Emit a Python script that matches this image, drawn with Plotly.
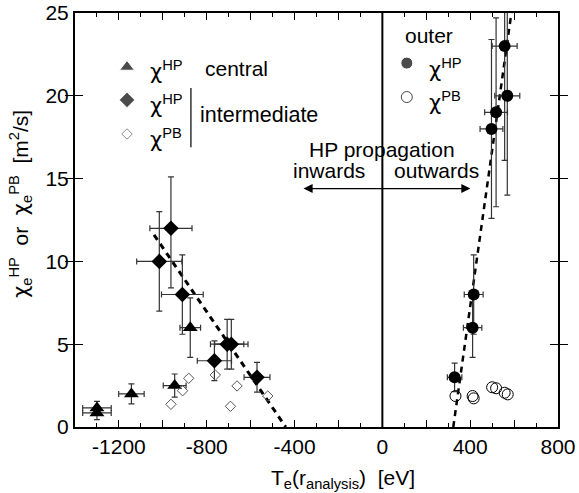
import plotly.graph_objects as go

# ---- data ----
central_x = [-1300, -1300, -1143, -946, -875]
central_y = [1.15, 0.85, 2.0, 2.5, 6.0]
central_xerr = [65, 65, 58, 52, 47]
central_yerr = [0.4, 0.4, 0.6, 0.7, 1.8]

inter_hp_x = [-1016, -963, -911, -765, -707, -688, -571]
inter_hp_y = [10.0, 12.0, 8.0, 4.0, 5.0, 5.0, 3.0]
inter_hp_xerr = [103, 96, 95, 78, 76, 76, 59]
inter_hp_yerr_plus = [3.0, 3.1, 2.4, 1.2, 1.5, 1.5, 0.9]
inter_hp_yerr_minus = [3.0, 3.6, 2.4, 1.2, 1.5, 1.5, 0.9]

inter_pb_x = [-963, -910, -882, -761, -692, -662, -522]
inter_pb_y = [1.37, 2.19, 2.94, 3.14, 1.25, 2.48, 1.87]

outer_hp_x = [329, 411, 416, 497, 518, 569, 557]
outer_hp_y = [3.0, 6.0, 8.0, 18.0, 19.0, 20.0, 23.0]
outer_hp_xerr = [33, 42, 43, 52, 52, 57, 57]
outer_hp_yerr = [0.86, 1.8, 2.4, 5.4, 5.7, 6.0, 6.9]

outer_pb_x = [333, 411, 416, 500, 518, 557, 571]
outer_pb_y = [1.87, 1.87, 1.73, 2.40, 2.34, 2.07, 1.97]

fit_left_x = [-1040, -440]
fit_left_y = [11.6, 0.0]
fit_right_x = [323, 592]
fit_right_y = [0.0, 25.4]

x_tickvals = [-1400, -1200, -1000, -800, -600, -400, -200, 0, 200, 400, 600, 800]
x_ticktext = ["", "-1200", "", "-800", "", "-400", "", "0", "", "400", "", "800"]
y_tickvals = [0, 5, 10, 15, 20, 25]

FONT = "Liberation Sans, Arial, sans-serif"
CHI = "<span style='font-family:DejaVu Sans'>χ</span>"
EB = "#333333"
FS = 21

fig = go.Figure()

# dashed fits
fig.add_trace(go.Scatter(x=fit_left_x, y=fit_left_y, mode="lines",
                         line=dict(color="black", width=3, dash="6px,5px"), showlegend=False))
fig.add_trace(go.Scatter(x=fit_right_x, y=fit_right_y, mode="lines",
                         line=dict(color="black", width=2.5, dash="6px,5px"), showlegend=False))

# central HP (triangles)
fig.add_trace(go.Scatter(
    x=central_x, y=central_y, mode="markers",
    marker=dict(symbol="triangle-up", size=13, color="black"),
    error_x=dict(type="data", array=central_xerr, color=EB, thickness=1.2, width=3),
    error_y=dict(type="data", array=central_yerr, color=EB, thickness=1.2, width=3),
    showlegend=False))

# intermediate HP (filled diamonds)
fig.add_trace(go.Scatter(
    x=inter_hp_x, y=inter_hp_y, mode="markers",
    marker=dict(symbol="diamond", size=12, color="black"),
    error_x=dict(type="data", array=inter_hp_xerr, color=EB, thickness=1.2, width=3),
    error_y=dict(type="data", array=inter_hp_yerr_plus, arrayminus=inter_hp_yerr_minus,
                 color=EB, thickness=1.2, width=3),
    showlegend=False))

# intermediate PB (open diamonds)
fig.add_trace(go.Scatter(
    x=inter_pb_x, y=inter_pb_y, mode="markers",
    marker=dict(symbol="diamond-open", size=8, color="#555555", line=dict(width=1)),
    showlegend=False))

# outer HP (filled circles)
fig.add_trace(go.Scatter(
    x=outer_hp_x, y=outer_hp_y, mode="markers",
    marker=dict(symbol="circle", size=12, color="black"),
    error_x=dict(type="data", array=outer_hp_xerr, color=EB, thickness=1.2, width=3),
    error_y=dict(type="data", array=outer_hp_yerr, color=EB, thickness=1.2, width=3),
    showlegend=False))

# outer PB (open circles)
fig.add_trace(go.Scatter(
    x=outer_pb_x, y=outer_pb_y, mode="markers",
    marker=dict(symbol="circle-open", size=11, color="black", line=dict(width=1)),
    showlegend=False))

# legend markers on an overlay axis (0..1 both ways)
leg_x = [0.1077, 0.1077, 0.1077, 0.687, 0.687]
leg_y = [0.8696, 0.790, 0.7077, 0.879, 0.797]
leg_sym = ["triangle-up", "diamond", "diamond-open", "circle", "circle-open"]
leg_size = [13, 12, 8, 12, 11]
leg_col = ["black", "black", "#555555", "black", "black"]
fig.add_trace(go.Scatter(
    x=leg_x, y=leg_y, xaxis="x2", yaxis="y2", mode="markers",
    marker=dict(symbol=leg_sym, size=leg_size, color=leg_col, line=dict(width=1)),
    showlegend=False, hoverinfo="skip"))

ann = []
def txt(x, y, t, xanchor="left", xref="paper", yref="paper", size=FS, angle=0):
    ann.append(dict(x=x, y=y, xref=xref, yref=yref, text=t, showarrow=False,
                    xanchor=xanchor, yanchor="middle", textangle=angle,
                    font=dict(family=FONT, size=size, color="black")))

txt(0.152, 0.862, CHI + "<sup>HP</sup>")
txt(0.265, 0.865, "central")
txt(0.152, 0.780, CHI + "<sup>HP</sup>")
txt(0.152, 0.697, CHI + "<sup>PB</sup>")
txt(0.2547, 0.754, "intermediate", size=21.5)
txt(0.679, 0.945, "outer")
txt(0.728, 0.867, CHI + "<sup>HP</sup>")
txt(0.728, 0.787, CHI + "<sup>PB</sup>")

txt(0, 16.75, "HP propagation", xanchor="center", xref="x", yref="y")
txt(-68, 15.5, "inwards", xanchor="right", xref="x", yref="y")
txt(44, 15.5, "outwards", xanchor="left", xref="x", yref="y")

# y-axis title as rotated annotation
txt(-0.113, 0.54,
    CHI + "<sub>e</sub><sup>HP</sup>  or  " + CHI + "<sub>e</sub><sup>PB</sup>  [m<sup>2</sup>/s]",
    xanchor="center", angle=-90)
# x-axis title
txt(0.555, -0.125, "T<sub>e</sub>(r<sub>analysis</sub>)  [eV]", xanchor="center")

# double-headed arrow
ann.append(dict(x=401, y=14.4, ax=-366, ay=14.4, xref="x", yref="y", axref="x", ayref="y",
                text="", showarrow=True, arrowhead=2, arrowside="end+start",
                arrowsize=1.4, arrowwidth=1.3, arrowcolor="black"))

shapes = [
    dict(type="line", xref="x", yref="y", x0=0, x1=0, y0=0, y1=25,
         line=dict(color="black", width=2)),
    dict(type="line", xref="paper", yref="paper", x0=0.240, x1=0.240, y0=0.676, y1=0.819,
         line=dict(color="black", width=1.2)),
]

xcommon = dict(range=[-1400, 800], tickvals=x_tickvals, ticks="inside", ticklen=7,
               tickwidth=1.2, tickcolor="black",
               minor=dict(dtick=100, tick0=0, ticks="inside", ticklen=4, tickwidth=1.2,
                          tickcolor="black"),
               showgrid=False, zeroline=False, automargin=False)

fig.update_layout(
    template="none",
    width=579, height=493,
    margin=dict(l=75, r=21, t=13, b=66, autoexpand=False),
    plot_bgcolor="white", paper_bgcolor="white",
    font=dict(family=FONT, size=FS, color="black"),
    annotations=ann, shapes=shapes,
    xaxis=dict(**xcommon, ticktext=x_ticktext,
               showline=True, linecolor="black", linewidth=2, mirror=True,
               tickfont=dict(family=FONT, size=FS)),
    xaxis3=dict(**xcommon, overlaying="x", side="top", showticklabels=False,
                showline=False),
    yaxis=dict(range=[0, 25], tickvals=y_tickvals, ticks="inside", ticklen=8,
               tickwidth=1.2, tickcolor="black",
               showline=True, linecolor="black", linewidth=2, mirror="allticks",
               showgrid=False, zeroline=False, automargin=False,
               tickfont=dict(family=FONT, size=FS)),
    xaxis2=dict(range=[0, 1], overlaying="x", visible=False),
    yaxis2=dict(range=[0, 1], overlaying="y", visible=False),
)
# invisible trace so the top tick axis is drawn
fig.add_trace(go.Scatter(x=[-1400], y=[0], xaxis="x3", mode="markers",
                         marker=dict(opacity=0), showlegend=False, hoverinfo="skip"))

fig.write_html("out.html")
